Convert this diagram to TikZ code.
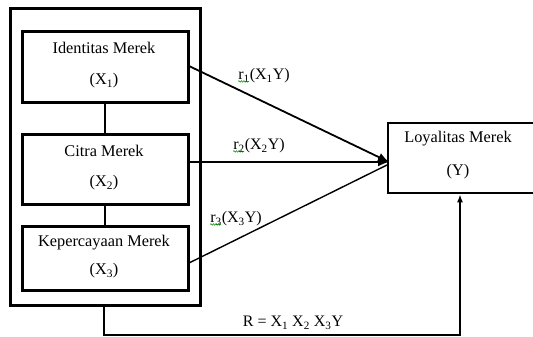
\documentclass[tikz,border=0pt]{standalone}
\usepackage{fontspec}
\setmainfont{Liberation Serif}
\usetikzlibrary{arrows.meta,decorations.pathmorphing}
\begin{document}
\begin{tikzpicture}[x=1pt,y=-1pt,
  thickbox/.style={draw,line width=3pt,inner sep=0pt},
  ybox/.style={draw,line width=2.6pt,inner sep=0pt},
  txt/.style={inner sep=0pt,font=\fontsize{16.3}{18}\selectfont},
  lbl/.style={inner sep=0pt,font=\fontsize{16}{18}\selectfont},
  conn/.style={line width=1.7pt},
  arr/.style={line width=1.8pt,-{Latex[length=11pt,width=9pt]}},
  squig/.style={draw=green!55!black,line width=0.5pt,decorate,decoration={snake,amplitude=0.8pt,segment length=2.5pt}}
]
\useasboundingbox (0,0) rectangle (533,337);
% outer box
\node[thickbox,minimum width=190pt,minimum height=296pt] (outer) at (105,157) {};
% inner boxes
\node[thickbox,minimum width=166pt,minimum height=70pt] (x1) at (105,67) {};
\node[thickbox,minimum width=166pt,minimum height=70pt] (x2) at (105,169) {};
\node[thickbox,minimum width=166pt,minimum height=64pt] (x3) at (105,258) {};
\node[ybox,minimum width=148pt,minimum height=70pt] (yb) at (462,158) {};
% texts
\node[txt] (t1a) at (104,48) {Identitas Merek};
\node[txt] (t1b) at (104,81) {(X\textsubscript{1})};
\node[txt] (t2a) at (104,151) {Citra Merek};
\node[txt] (t2b) at (104,183) {(X\textsubscript{2})};
\node[txt] (t3a) at (104,243) {Kepercayaan Merek};
\node[txt] (t3b) at (104,271) {(X\textsubscript{3})};
\node[txt] (tya) at (458,139) {Loyalitas Merek};
\node[txt] (tyb) at (458,172) {(Y)};
% connectors between boxes
\draw[conn] (x1.south) -- (x2.north);
\draw[conn] (x2.south) -- (x3.north);
% arrows
\coordinate (tip) at (389,162);
\coordinate (tip3) at (387,165);
\coordinate (s1) at (189,66);
\coordinate (s2) at (189,162);
\coordinate (s3) at (189,263);
\draw[arr] (s1) -- (tip);
\draw[arr] (s2) -- (tip);
\draw[line width=1.4pt] (s3) -- (tip3);
% labels
\node[lbl] (l1) at (264,76) {r\textsubscript{1}(X\textsubscript{1}Y)};
\node[lbl] (l2) at (259,146) {r\textsubscript{2}(X\textsubscript{2}Y)};
\node[lbl] (l3) at (236,219) {r\textsubscript{3}(X\textsubscript{3}Y)};
\draw[squig] ([xshift=0pt,yshift=2pt]l1.south west) -- ++(11,0);
\draw[squig] ([xshift=0pt,yshift=2pt]l2.south west) -- ++(11,0);
\draw[squig] ([xshift=0pt,yshift=2pt]l3.south west) -- ++(11,0);
% bottom feedback
\coordinate (b1) at (104,335);
\draw[line width=1.8pt,-{Latex[length=8pt,width=6pt]}] (outer.south -| b1) -- (b1) -| (yb.south -| 460,0);
\node[lbl] (lr) at (293,323) {R = X\textsubscript{1} X\textsubscript{2} X\textsubscript{3}Y};
\end{tikzpicture}
\end{document}
